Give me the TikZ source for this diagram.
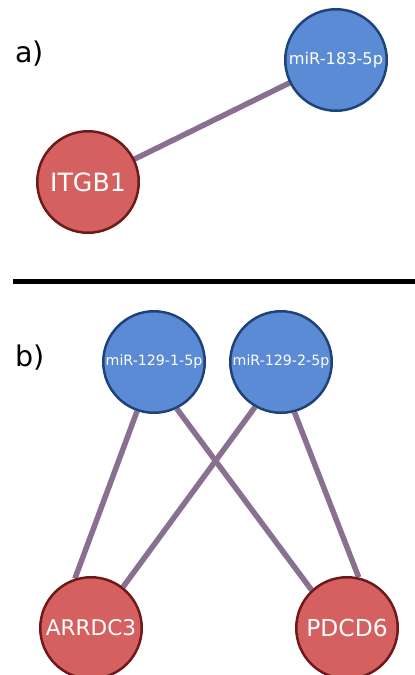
\documentclass[tikz,border=0pt]{standalone}
\usepackage{fontspec}
\setmainfont{DejaVu Sans}
\usetikzlibrary{backgrounds}
\definecolor{mirfill}{HTML}{5B8BD4}
\definecolor{mirdraw}{HTML}{1F4378}
\definecolor{genefill}{HTML}{D46060}
\definecolor{genedraw}{HTML}{6E1A1A}
\definecolor{edgecol}{HTML}{8A7090}
\tikzset{
  mirna/.style={circle, minimum size=101.5pt, inner sep=0pt, fill=mirfill, draw=mirdraw, line width=2.5pt, text=white},
  gene/.style={circle, minimum size=101.5pt, inner sep=0pt, fill=genefill, draw=genedraw, line width=2.5pt, text=white},
  link/.style={draw=edgecol, line width=5.5pt},
  panel/.style={anchor=base west, inner sep=0pt, font=\fontsize{28.5}{32}\selectfont}
}
\begin{document}
\begin{tikzpicture}[x=1pt,y=-1pt]
\useasboundingbox (0,0) rectangle (415,675);
% panel a
\node[panel] (la) at (15,62) {a)};
\node[mirna, font=\fontsize{16.2}{19}\selectfont] (m183) at (336,60) {miR-183-5p};
\node[gene, font=\fontsize{25.2}{29}\selectfont] (itgb1) at (88,182) {ITGB1};
% separator
\coordinate (sepL) at (13,281.5);
\coordinate (sepR) at (415,281.5);
\draw[line width=5pt] (sepL) -- (sepR);
% panel b
\node[panel] (lb) at (15,366) {b)};
\node[mirna, font=\fontsize{14.2}{17}\selectfont] (m1) at (154,362) {miR-129-1-5p};
\node[mirna, font=\fontsize{14.2}{17}\selectfont] (m2) at (281,362) {miR-129-2-5p};
\node[gene, font=\fontsize{21.6}{25}\selectfont] (arr) at (91,628) {ARRDC3};
\node[gene, font=\fontsize{23.4}{27}\selectfont] (pdc) at (347,628) {PDCD6};
% edges
\begin{scope}[on background layer]
\draw[link] (itgb1.center) -- (m183.center);
\draw[link] (m1.251.6) -- (arr.108.4);
\draw[link] (m1.296.6) -- (pdc.133);
\draw[link] (m2.240.8) -- (arr.52.9);
\draw[link] (m2.285.6) -- (pdc.77.6);
\end{scope}
\end{tikzpicture}
\end{document}
